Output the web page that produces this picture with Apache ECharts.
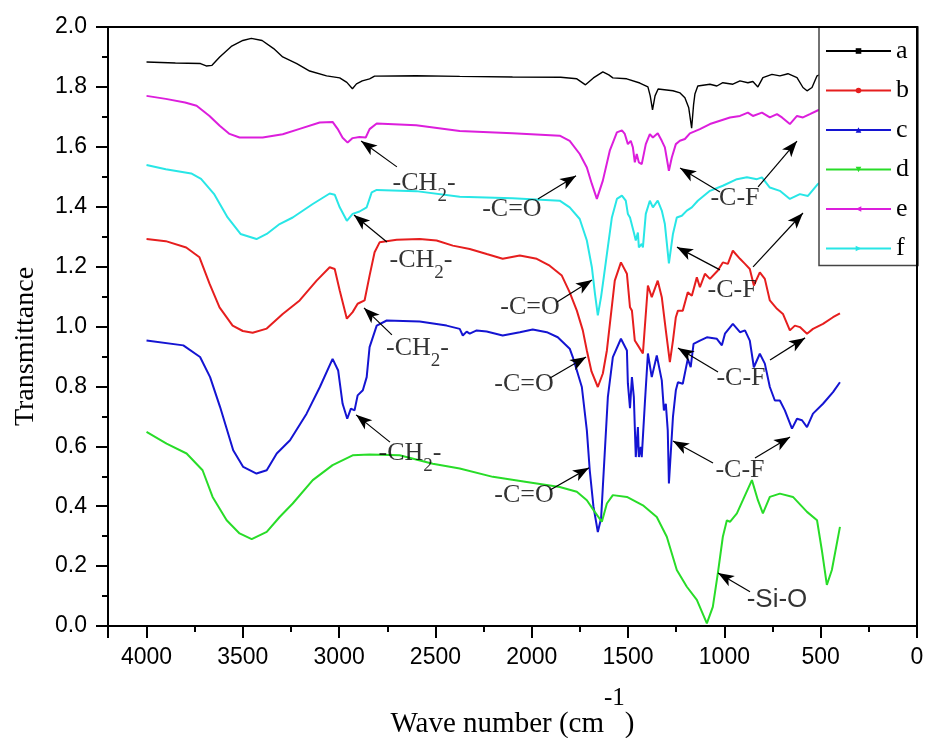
<!DOCTYPE html>
<html>
<head>
<meta charset="utf-8">
<title>FTIR spectra a-f</title>
<script src="https://cdn.jsdelivr.net/npm/echarts@6.0.0/dist/echarts.min.js"></script>
<style>
  html, body { margin: 0; padding: 0; background: #fff; }
  #wrap { position: relative; width: 928px; height: 738px; }
  #chart { width: 928px; height: 738px; }
  #frame {
    position: absolute; left: 107px; top: 26px; width: 811px; height: 601px;
    box-sizing: border-box; border: 2px solid #000; pointer-events: none;
  }
</style>
</head>
<body>
<div id="wrap">
  <div id="chart"></div>
  <div id="frame"></div>
</div>
<script>
// wave number (cm-1), transmittance
const spectrumA = [
  [4000, 1.883], [3850, 1.880], [3720, 1.878], [3690, 1.870], [3660, 1.872], [3620, 1.900],
  [3560, 1.935], [3500, 1.955], [3456, 1.962], [3400, 1.955], [3340, 1.928], [3293, 1.900],
  [3220, 1.878], [3153, 1.853], [3065, 1.837], [2997, 1.830], [2960, 1.815], [2931, 1.794],
  [2910, 1.810], [2880, 1.820], [2842, 1.827], [2816, 1.836], [2600, 1.837], [2374, 1.835],
  [2100, 1.833], [1850, 1.832], [1766, 1.827], [1721, 1.807], [1680, 1.830], [1631, 1.850],
  [1600, 1.840], [1579, 1.830], [1507, 1.827], [1439, 1.813], [1397, 1.800], [1385, 1.770],
  [1373, 1.723], [1360, 1.770], [1344, 1.793], [1267, 1.787], [1230, 1.780], [1205, 1.764],
  [1185, 1.730], [1170, 1.662], [1160, 1.740], [1153, 1.776], [1138, 1.803], [1075, 1.809],
  [1039, 1.803], [1008, 1.814], [956, 1.809], [919, 1.820], [878, 1.814], [852, 1.818],
  [826, 1.800], [800, 1.831], [753, 1.842], [712, 1.837], [670, 1.844], [623, 1.831],
  [592, 1.798], [571, 1.787], [545, 1.798], [519, 1.837], [509, 1.842], [470, 1.850], [400, 1.850]
];
const spectrumB = [
  [4000, 1.292], [3900, 1.285], [3794, 1.264], [3725, 1.231], [3673, 1.143], [3621, 1.064],
  [3553, 1.003], [3500, 0.985], [3449, 0.979], [3376, 0.993], [3293, 1.042], [3205, 1.087],
  [3117, 1.153], [3049, 1.198], [3023, 1.192], [2997, 1.120], [2960, 1.026], [2930, 1.048],
  [2904, 1.076], [2868, 1.087], [2842, 1.170], [2816, 1.248], [2790, 1.281], [2701, 1.290],
  [2582, 1.292], [2494, 1.287], [2410, 1.270], [2322, 1.259], [2234, 1.242], [2151, 1.226],
  [2062, 1.237], [1974, 1.226], [1907, 1.203], [1844, 1.170], [1803, 1.114], [1766, 1.053],
  [1735, 0.987], [1714, 0.920], [1690, 0.850], [1657, 0.798], [1631, 0.843], [1610, 0.920],
  [1569, 1.153], [1537, 1.214], [1506, 1.176], [1490, 1.064], [1480, 1.053], [1465, 0.953],
  [1449, 0.937], [1423, 0.910], [1413, 0.998], [1397, 1.137], [1377, 1.098], [1346, 1.153],
  [1325, 1.098], [1304, 0.987], [1283, 0.881], [1267, 0.953], [1252, 1.031], [1241, 1.053],
  [1216, 1.053], [1190, 1.114], [1169, 1.103], [1143, 1.164], [1127, 1.131], [1101, 1.176],
  [1075, 1.159], [1034, 1.187], [1008, 1.214], [982, 1.209], [956, 1.253], [919, 1.226],
  [893, 1.209], [868, 1.192], [847, 1.137], [816, 1.181], [790, 1.159], [764, 1.087],
  [727, 1.059], [696, 1.042], [660, 0.987], [634, 1.003], [608, 0.998], [571, 0.976],
  [540, 0.992], [488, 1.009], [436, 1.031], [400, 1.044]
];
const spectrumC = [
  [4000, 0.953], [3809, 0.937], [3722, 0.898], [3670, 0.831], [3618, 0.731], [3550, 0.587],
  [3498, 0.531], [3429, 0.509], [3376, 0.520], [3324, 0.576], [3255, 0.620], [3169, 0.709],
  [3100, 0.798], [3034, 0.892], [3005, 0.853], [2982, 0.742], [2958, 0.692], [2939, 0.726],
  [2920, 0.720], [2904, 0.770], [2877, 0.787], [2857, 0.831], [2842, 0.931], [2805, 1.003],
  [2753, 1.020], [2582, 1.017], [2442, 1.003], [2374, 0.992], [2358, 0.970], [2338, 0.983],
  [2322, 0.976], [2286, 0.987], [2234, 0.983], [2151, 0.970], [2062, 0.981], [1995, 0.990],
  [1922, 0.981], [1865, 0.964], [1803, 0.926], [1787, 0.898], [1740, 0.798], [1714, 0.653],
  [1699, 0.520], [1680, 0.400], [1657, 0.314], [1640, 0.360], [1631, 0.464], [1605, 0.764],
  [1579, 0.898], [1537, 0.959], [1506, 0.920], [1501, 0.810], [1490, 0.727], [1480, 0.831],
  [1470, 0.764], [1460, 0.564], [1449, 0.664], [1444, 0.564], [1434, 0.598], [1429, 0.564],
  [1413, 0.742], [1397, 0.910], [1377, 0.831], [1351, 0.903], [1325, 0.820], [1314, 0.720],
  [1304, 0.742], [1294, 0.653], [1288, 0.476], [1267, 0.698], [1252, 0.787], [1241, 0.814],
  [1216, 0.809], [1190, 0.892], [1175, 0.864], [1160, 0.942], [1127, 0.953], [1091, 0.964],
  [1039, 0.959], [1013, 0.937], [997, 0.976], [956, 1.009], [919, 0.981], [893, 0.987],
  [868, 0.953], [847, 0.864], [816, 0.909], [790, 0.876], [764, 0.798], [738, 0.753],
  [712, 0.753], [686, 0.720], [649, 0.659], [623, 0.692], [597, 0.687], [571, 0.664],
  [540, 0.709], [488, 0.742], [436, 0.781], [400, 0.814]
];
const spectrumD = [
  [4000, 0.648], [3896, 0.609], [3792, 0.576], [3709, 0.520], [3657, 0.431], [3584, 0.353],
  [3517, 0.309], [3454, 0.290], [3376, 0.314], [3309, 0.364], [3241, 0.409], [3137, 0.487],
  [3034, 0.537], [2930, 0.570], [2842, 0.573], [2686, 0.570], [2514, 0.542], [2374, 0.526],
  [2202, 0.498], [2026, 0.481], [1855, 0.464], [1766, 0.448], [1714, 0.420], [1673, 0.381],
  [1636, 0.348], [1610, 0.409], [1579, 0.437], [1506, 0.431], [1423, 0.403], [1351, 0.364],
  [1299, 0.298], [1247, 0.187], [1195, 0.131], [1143, 0.087], [1091, 0.009], [1060, 0.064],
  [1034, 0.176], [1008, 0.298], [987, 0.353], [971, 0.348], [935, 0.376], [904, 0.420],
  [857, 0.487], [826, 0.420], [800, 0.376], [764, 0.431], [712, 0.442], [644, 0.431],
  [571, 0.381], [519, 0.353], [494, 0.253], [468, 0.137], [442, 0.187], [400, 0.331]
];
const spectrumE = [
  [4000, 1.770], [3900, 1.760], [3800, 1.748], [3740, 1.737], [3673, 1.703], [3620, 1.670],
  [3569, 1.643], [3517, 1.631], [3397, 1.631], [3293, 1.642], [3205, 1.660], [3101, 1.681],
  [3034, 1.683], [3008, 1.660], [2982, 1.630], [2956, 1.614], [2930, 1.629], [2894, 1.633],
  [2862, 1.631], [2842, 1.659], [2805, 1.678], [2600, 1.672], [2374, 1.653], [2100, 1.645],
  [1855, 1.637], [1803, 1.620], [1751, 1.576], [1714, 1.531], [1688, 1.476], [1662, 1.426],
  [1631, 1.487], [1595, 1.587], [1558, 1.648], [1532, 1.655], [1517, 1.643], [1501, 1.609],
  [1486, 1.620], [1475, 1.598], [1465, 1.548], [1455, 1.576], [1444, 1.548], [1429, 1.542],
  [1423, 1.548], [1408, 1.609], [1387, 1.642], [1371, 1.631], [1346, 1.645], [1325, 1.620],
  [1309, 1.598], [1288, 1.520], [1273, 1.564], [1252, 1.609], [1231, 1.620], [1205, 1.626],
  [1179, 1.645], [1127, 1.659], [1075, 1.676], [1023, 1.687], [971, 1.698], [919, 1.703],
  [878, 1.714], [852, 1.703], [805, 1.714], [764, 1.698], [727, 1.709], [701, 1.698],
  [660, 1.676], [623, 1.703], [592, 1.698], [556, 1.709], [514, 1.722], [460, 1.730], [400, 1.735]
];
const spectrumF = [
  [4000, 1.539], [3900, 1.525], [3768, 1.511], [3717, 1.493], [3650, 1.443], [3579, 1.364],
  [3512, 1.309], [3429, 1.292], [3376, 1.309], [3309, 1.342], [3241, 1.364], [3137, 1.409],
  [3049, 1.444], [3023, 1.440], [2997, 1.398], [2960, 1.353], [2930, 1.376], [2894, 1.384],
  [2857, 1.398], [2831, 1.448], [2805, 1.456], [2600, 1.452], [2374, 1.433], [2100, 1.428],
  [1855, 1.420], [1803, 1.398], [1751, 1.359], [1714, 1.287], [1688, 1.198], [1672, 1.110],
  [1657, 1.037], [1640, 1.100], [1625, 1.170], [1610, 1.242], [1584, 1.364], [1558, 1.426],
  [1532, 1.437], [1512, 1.420], [1501, 1.376], [1490, 1.364], [1480, 1.370], [1470, 1.314],
  [1460, 1.287], [1449, 1.314], [1444, 1.264], [1429, 1.276], [1423, 1.264], [1408, 1.376],
  [1387, 1.420], [1371, 1.398], [1346, 1.420], [1325, 1.387], [1309, 1.342], [1288, 1.211],
  [1267, 1.309], [1247, 1.364], [1221, 1.370], [1195, 1.387], [1169, 1.398], [1138, 1.420],
  [1075, 1.453], [1008, 1.470], [935, 1.492], [883, 1.498], [831, 1.492], [805, 1.498],
  [764, 1.464], [712, 1.453], [660, 1.426], [608, 1.442], [566, 1.436], [514, 1.476],
  [460, 1.490], [400, 1.500]
];

const seriesNames = ['a', 'b', 'c', 'd', 'e', 'f'];

// group labels: kind, wave number, transmittance
const noteLabels = [
  ['ch2', 2559, 1.447], ['ch2', 2575, 1.191], ['ch2', 2593, 0.896], ['ch2', 2632, 0.546],
  ['co', 2103, 1.392], ['co', 2009, 1.065], ['co', 2040, 0.808], ['co', 2040, 0.437],
  ['cf', 945, 1.430], ['cf', 960, 1.120], ['cf', 914, 0.826], ['cf', 919, 0.519],
  ['sio', 727, 0.087]
];
// arrows: tail wave number, tail value, tip wave number, tip value
const noteArrows = [
  [2700, 1.533, 2886, 1.619], [2752, 1.282, 2923, 1.372], [2726, 0.972, 2871, 1.062],
  [2736, 0.614, 2912, 0.705],
  [1968, 1.426, 1770, 1.503], [1869, 1.082, 1687, 1.155], [1905, 0.828, 1718, 0.898],
  [1905, 0.454, 1703, 0.528],
  [1023, 1.449, 1230, 1.529], [825, 1.466, 623, 1.619],
  [1023, 1.189, 1246, 1.265], [851, 1.199, 592, 1.379],
  [1033, 0.848, 1241, 0.928], [763, 0.888, 581, 0.962],
  [1059, 0.544, 1267, 0.618], [841, 0.561, 659, 0.631],
  [867, 0.114, 1033, 0.177]
];

const noteText = {
  ch2: '{m|-CH}{s|2}{m|-}',
  co: '{p|-C=O}',
  cf: '{p|-C-F}',
  sio: '{q|-Si-O}'
};

const serif = 'Liberation Serif';
const sans = 'Liberation Sans';
const colors = ['#000000', '#e61e1e', '#1414d2', '#28dc28', '#dc1edc', '#28e6e6'];
const symbols = ['rect', 'circle', 'triangle', 'triangle', 'triangle', 'triangle'];
const symbolRotates = [0, 0, 0, 180, 90, -90];
const spectra = [spectrumA, spectrumB, spectrumC, spectrumD, spectrumE, spectrumF];

// plot box in pixels
const plotLeft = 108, plotTop = 27, plotRight = 11, plotBottom = 112;
const plotWidth = 928 - plotLeft - plotRight;
const plotHeight = 738 - plotTop - plotBottom;

const chart = echarts.init(document.getElementById('chart'));

const lineSeries = spectra.map((data, i) => ({
  name: seriesNames[i],
  type: 'line',
  data: data,
  showSymbol: false,
  symbol: symbols[i],
  symbolRotate: symbolRotates[i],
  symbolSize: 6,
  color: colors[i],
  lineStyle: { color: colors[i], width: i === 0 ? 1.4 : 2 },
  itemStyle: { color: colors[i] }
}));

const arrowSeries = {
  name: 'arrows',
  type: 'line',
  data: [],
  silent: true,
  markLine: {
    silent: true,
    symbol: ['none', 'arrow'],
    label: { show: false },
    lineStyle: { color: '#000', width: 1.2, type: 'solid' },
    emphasis: { disabled: true },
    data: noteArrows.map(a => [
      { coord: [a[0], a[1]], symbol: 'none' },
      { coord: [a[2], a[3]], symbol: 'arrow', symbolSize: [9, 16] }
    ])
  }
};

const labelSeries = {
  name: 'notes',
  type: 'scatter',
  symbolSize: 1,
  itemStyle: { color: 'transparent' },
  silent: true,
  z: 5,
  data: noteLabels.map(n => ({
    value: [n[1], n[2]],
    label: { formatter: noteText[n[0]] }
  })),
  label: {
    show: true,
    position: 'inside',
    color: '#000',
    rich: {
      m: { fontFamily: serif, fontSize: 26, lineHeight: 26, color: '#000', padding: [0, 0, 9, 0], verticalAlign: 'bottom' },
      s: { fontFamily: serif, fontSize: 19, lineHeight: 19, color: '#000', verticalAlign: 'bottom' },
      p: { fontFamily: serif, fontSize: 26, lineHeight: 26, color: '#000' },
      q: { fontFamily: sans, fontSize: 26, lineHeight: 26, color: '#000' }
    }
  }
};

const option = {
  animation: false,
  grid: {
    left: plotLeft, top: plotTop, right: plotRight, bottom: plotBottom,
    outerBoundsMode: 'none',
    containLabel: false,
    show: true, borderColor: '#000', borderWidth: 2
  },
  // frame around the plot area
  graphic: [{
    type: 'rect',
    z: 100,
    silent: true,
    shape: { x: plotLeft, y: plotTop, width: plotWidth, height: plotHeight },
    style: { fill: 'none', stroke: '#000', lineWidth: 2 }
  }],
  legend: {
    data: seriesNames,
    orient: 'vertical',
    left: 819,
    top: 27,
    padding: [9, 9, 2, 6],
    itemWidth: 65,
    itemHeight: 7,
    itemGap: 9.5,
    selectedMode: false,
    backgroundColor: '#fff',
    borderColor: '#444',
    borderWidth: 1.5,
    textStyle: { fontFamily: serif, fontSize: 26, lineHeight: 30, color: '#000' }
  },
  xAxis: {
    type: 'value',
    min: 0,
    max: 4200,
    interval: 500,
    inverse: true,
    name: '{m|Wave number (cm}{sup|-1}{m|)}',
    nameLocation: 'middle',
    nameGap: 60,
    nameTextStyle: {
      rich: {
        m: { fontFamily: serif, fontSize: 29, lineHeight: 29, color: '#000', padding: [24, 0, 0, 0], verticalAlign: 'top' },
        sup: { fontFamily: serif, fontSize: 25, lineHeight: 25, color: '#000', verticalAlign: 'top' }
      }
    },
    axisLine: { show: true, onZero: false, lineStyle: { color: '#000', width: 2 } },
    axisTick: { show: true, length: 12, lineStyle: { color: '#000', width: 2 } },
    minorTick: { show: true, splitNumber: 2, length: 6, lineStyle: { color: '#000', width: 2 } },
    axisLabel: {
      showMaxLabel: false, margin: 20, fontFamily: sans, fontSize: 23, color: '#000',
      formatter: v => String(v)
    },
    splitLine: { show: false }
  },
  yAxis: {
    type: 'value',
    min: 0,
    max: 2,
    interval: 0.2,
    name: 'Transmittance',
    nameLocation: 'middle',
    nameRotate: 90,
    nameGap: 68,
    nameTextStyle: { fontFamily: serif, fontSize: 28, color: '#000', padding: [0, 40, 0, 0] },
    axisLine: { show: true, onZero: false, lineStyle: { color: '#000', width: 2 } },
    axisTick: { show: true, length: 12, lineStyle: { color: '#000', width: 2 } },
    minorTick: { show: true, splitNumber: 2, length: 6, lineStyle: { color: '#000', width: 2 } },
    axisLabel: { margin: 21, fontFamily: sans, fontSize: 23, color: '#000', formatter: v => v.toFixed(1) },
    splitLine: { show: false }
  },
  series: [...lineSeries, arrowSeries, labelSeries]
};

chart.setOption(option);
</script>
</body>
</html>
